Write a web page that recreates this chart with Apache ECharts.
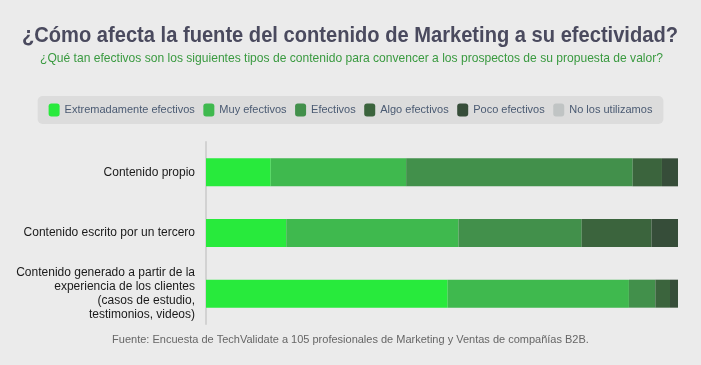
<!DOCTYPE html>
<html><head><meta charset="utf-8">
<script src="https://cdn.jsdelivr.net/npm/echarts@6/dist/echarts.min.js"></script>
<style>html,body{margin:0;padding:0;background:#ebebeb}#c{width:701px;height:365px}</style>
</head><body><div id="c"></div>
<script>
const titleText = '¿Cómo afecta la fuente del contenido de Marketing a su efectividad?';
const subtitleText = '¿Qué tan efectivos son los siguientes tipos de contenido para convencer a los prospectos de su propuesta de valor?';
const footerText = 'Fuente: Encuesta de TechValidate a 105 profesionales de Marketing y Ventas de compañías B2B.';
const categories = [
  'Contenido propio',
  'Contenido escrito por un tercero',
  'Contenido generado a partir de la\nexperiencia de los clientes\n(casos de estudio,\ntestimonios, videos)'
];
const seriesNames = ['Extremadamente efectivos','Muy efectivos','Efectivos','Algo efectivos','Poco efectivos','No los utilizamos'];
const extremadamente = [13.7, 17.0, 51.2];
const muy = [28.7, 36.5, 38.4];
const efectivos = [48.0, 26.1, 5.6];
const algo = [6.2, 14.8, 3.1];
const poco = [3.4, 5.6, 1.7];
const noUtilizamos = [0, 0, 0];
const colors = ['#28ea3c','#3fb94e','#42904b','#3b643d','#364d39','#c0c4c4'];
const values = [extremadamente, muy, efectivos, algo, poco, noUtilizamos];

function fitScale(text, font, target) {
  const ctx = document.createElement('canvas').getContext('2d');
  ctx.font = font;
  return target / ctx.measureText(text).width;
}
const titleFont = 'bold 22px "Liberation Sans"';
const subFont = '13px "Liberation Sans"';
const titleScale = fitScale(titleText, titleFont, 656);
const subScale = fitScale(subtitleText, subFont, 623);

const chart = echarts.init(document.getElementById('c'));
chart.setOption({
  backgroundColor: '#ebebeb',
  animation: false,
  legend: {
    data: seriesNames,
    top: 96, left: 'center',
    backgroundColor: '#dcdcdc', borderRadius: 5,
    padding: [7.5, 11, 7.5, 11],
    icon: 'roundRect', itemWidth: 11, itemHeight: 13, itemGap: 8.5,
    textStyle: {fontFamily: 'Liberation Sans', fontSize: 11, color: '#4a5a72'}
  },
  grid: {left: 206, right: 23, top: 142, bottom: 41},
  xAxis: {type: 'value', min: 0, max: 100, show: false},
  yAxis: {
    type: 'category', data: categories, inverse: true,
    axisLine: {lineStyle: {color: '#d2d2d2', width: 2}},
    axisTick: {lineStyle: {color: '#d2d2d2', width: 2}, length: 6},
    axisLabel: {fontFamily: 'Liberation Sans', fontSize: 12, color: '#1a1a1a', margin: 11, lineHeight: 14, align: 'right'}
  },
  series: seriesNames.map((n, i) => ({
    name: n, type: 'bar', stack: 'total', data: values[i],
    barWidth: 28, itemStyle: {color: colors[i]}
  })),
  graphic: [{
    type: 'text', x: 350, y: 36, scaleX: titleScale,
    style: {text: titleText, font: titleFont, fill: '#4a4a5e', align: 'center', verticalAlign: 'middle'}
  }, {
    type: 'text', x: 351.5, y: 58.5, scaleX: subScale,
    style: {text: subtitleText, font: subFont, fill: '#3a9a40', align: 'center', verticalAlign: 'middle'}
  }, {
    type: 'text', left: 'center', top: 334,
    style: {text: footerText, fontFamily: 'Liberation Sans', fontSize: 11, fill: '#666666'}
  }]
});
</script></body></html>
